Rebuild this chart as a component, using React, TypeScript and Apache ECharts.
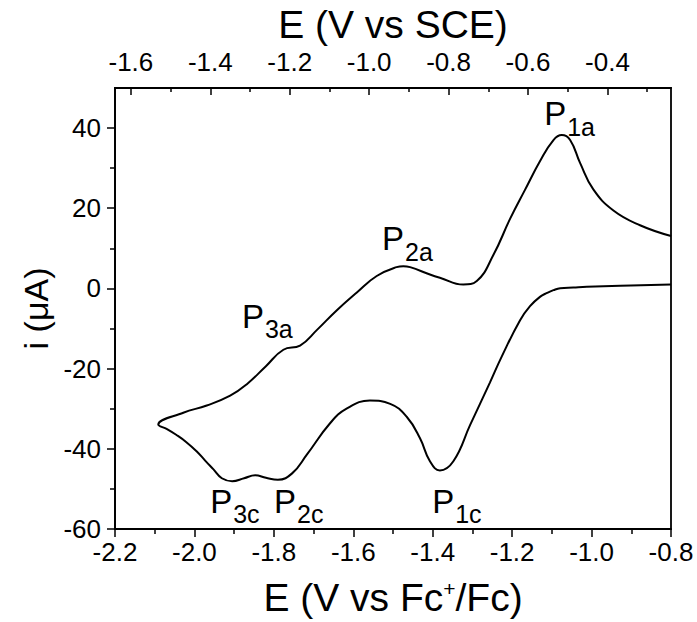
import React, { useEffect, useRef } from "react";
import * as echarts from "echarts";

const FONT = "'Liberation Sans', Arial, Helvetica, sans-serif";

// Cathodic sweep (lower branch), from -0.8 V towards the switching potential
const cathodicE = [
  -0.8, -0.928, -1.012, -1.046, -1.079, -1.096, -1.112, -1.13, -1.155, -1.18,
  -1.226, -1.256, -1.306, -1.348, -1.382, -1.407, -1.432, -1.465, -1.507, -1.558,
  -1.617, -1.659, -1.717, -1.754, -1.79, -1.82, -1.847, -1.875, -1.905, -1.931,
  -1.952, -1.973, -1.994, -2.021, -2.045, -2.069, -2.091,
];
const cathodicI = [
  1.0, 0.64, 0.39, 0.22, 0.05, -0.44, -1.13, -2.11, -4.44, -7.94,
  -16.94, -23.49, -34.11, -43.11, -45.39, -43.11, -37.37, -32.07, -28.79, -27.98,
  -30.01, -33.69, -41.47, -46.13, -47.72, -47.23, -46.62, -47.35, -48.09, -47.35,
  -45.14, -42.94, -40.66, -38.28, -36.56, -35.09, -33.94,
];
// Anodic sweep (upper branch), back towards -0.8 V
const anodicE = [
  -2.028, -1.969, -1.91, -1.868, -1.82, -1.776, -1.734, -1.692, -1.642, -1.591,
  -1.541, -1.491, -1.474, -1.457, -1.407, -1.382, -1.323, -1.289, -1.247, -1.205,
  -1.168, -1.13, -1.096, -1.075, -1.054, -1.029, -0.996, -0.945, -0.878, -0.8,
];
const anodicI = [
  -31.0, -29.21, -26.75, -23.88, -19.4, -15.3, -14.25, -10.4, -5.49, -1.01,
  3.09, 5.3, 5.54, 5.3, 3.48, 2.67, 0.96, 1.86, 8.39, 17.39,
  24.5, 31.68, 37.0, 38.23, 37.0, 31.29, 24.74, 19.42, 15.74, 13.05,
];

const bottomTicks = { min: -2.2, max: -0.8, step: 0.2 };
const SCE_OFFSET = 0.56;
const topMajor = [-1.6, -1.4, -1.2, -1.0, -0.8, -0.6, -0.4];
const topMinor = [-1.5, -1.3, -1.1, -0.9, -0.7, -0.5, -0.3];
const yMajor = [-60, -40, -20, 0, 20, 40];
const yMinor = [-50, -30, -10, 10, 30];
const yRange = { min: -60, max: 50 };

// Peak labels: "P" + subscript, anchored where P meets its subscript (P baseline)
const peakNames = ["1a", "2a", "3a", "3c", "2c", "1c"];
const peakE = [-1.064, -1.472, -1.825, -1.905, -1.744, -1.346];
const peakI = [40.7, 9.5, -9.8, -55.9, -55.9, -55.9];

const BLACK = "#000";

export default function App() {
  const ref = useRef<HTMLDivElement>(null);

  useEffect(() => {
    if (!ref.current) return;
    const chart = echarts.init(ref.current, undefined, { renderer: "svg" });

    const cv: number[][] = [];
    cathodicE.forEach((e, i) => cv.push([e, cathodicI[i]]));
    anodicE.forEach((e, i) => cv.push([e, anodicI[i]]));

    const tickLabel = {
      color: BLACK,
      fontSize: 26,
      fontFamily: FONT,
    };
    const lineS = { color: BLACK, width: 1.8 };
    const tickS = { color: BLACK, width: 1.5 };

    const P_SIZE = 33;
    const S_SIZE = 25;
    const labelItems: any[] = [];
    peakNames.forEach((n, i) => {
      labelItems.push({
        coord: [peakE[i], peakI[i]],
        label: {
          formatter: "P",
          fontSize: P_SIZE,
          align: "right",
          verticalAlign: "bottom",
          offset: [0, Math.round(P_SIZE * 0.16)],
        },
      });
      labelItems.push({
        coord: [peakE[i], peakI[i]],
        label: {
          formatter: n,
          fontSize: S_SIZE,
          align: "left",
          verticalAlign: "bottom",
          offset: [1, 10 + Math.round(S_SIZE * 0.16)],
        },
      });
    });

    chart.setOption({
      animation: false,
      backgroundColor: "#fff",
      grid: {
        left: 115,
        right: 26,
        top: 87,
        bottom: 86,
        show: true,
        borderColor: BLACK,
        borderWidth: 1.8,
        backgroundColor: "transparent",
      },
      xAxis: [
        {
          type: "value",
          position: "bottom",
          min: bottomTicks.min,
          max: bottomTicks.max,
          interval: bottomTicks.step,
          axisLine: { show: true, onZero: false, lineStyle: lineS },
          axisTick: { show: true, inside: false, length: 8, lineStyle: tickS },
          minorTick: { show: true, splitNumber: 2, length: 5, lineStyle: tickS },
          splitLine: { show: false },
          minorSplitLine: { show: false },
          axisLabel: {
            ...tickLabel,
            margin: 10,
            showMinLabel: true,
            showMaxLabel: true,
            formatter: (v: number) => v.toFixed(1),
          },
          name: "E (V vs Fc{sup|+}/Fc)",
          nameLocation: "middle",
          nameGap: 49,
          nameTextStyle: {
            color: BLACK,
            fontSize: 39,
            fontFamily: FONT,
            rich: {
              sup: {
                fontSize: 21,
                fontFamily: FONT,
                color: BLACK,
                verticalAlign: "top",
                lineHeight: 21,
              },
            },
          },
        },
        {
          type: "value",
          position: "top",
          min: bottomTicks.min + SCE_OFFSET,
          max: bottomTicks.max + SCE_OFFSET,
          axisLine: { show: true, onZero: false, lineStyle: lineS },
          axisTick: {
            show: true,
            inside: true,
            length: 7,
            lineStyle: tickS,
            customValues: topMajor,
          },
          splitLine: { show: false },
          axisLabel: {
            ...tickLabel,
            margin: 13,
            customValues: topMajor,
            formatter: (v: number) => v.toFixed(1),
          },
          name: "E (V vs SCE)",
          nameLocation: "middle",
          nameGap: 34,
          nameTextStyle: { color: BLACK, fontSize: 39, fontFamily: FONT },
        },
        {
          type: "value",
          position: "top",
          min: bottomTicks.min + SCE_OFFSET,
          max: bottomTicks.max + SCE_OFFSET,
          axisLine: { show: false, onZero: false },
          axisTick: {
            show: true,
            inside: true,
            length: 4,
            lineStyle: tickS,
            customValues: topMinor,
          },
          splitLine: { show: false },
          axisLabel: { show: false },
        },
      ],
      yAxis: [
        {
          type: "value",
          position: "left",
          min: yRange.min,
          max: yRange.max,
          axisLine: { show: true, onZero: false, lineStyle: lineS },
          axisTick: {
            show: true,
            inside: false,
            length: 8,
            lineStyle: tickS,
            customValues: yMajor,
          },
          splitLine: { show: false },
          axisLabel: {
            ...tickLabel,
            margin: 14,
            customValues: yMajor,
          },
          name: "i (\u03bcA)",
          nameLocation: "middle",
          nameGap: 62,
          nameTextStyle: { color: BLACK, fontSize: 34, fontFamily: FONT },
        },
        {
          type: "value",
          position: "left",
          min: yRange.min,
          max: yRange.max,
          axisLine: { show: false, onZero: false },
          axisTick: {
            show: true,
            inside: false,
            length: 5,
            lineStyle: tickS,
            customValues: yMinor,
          },
          splitLine: { show: false },
          axisLabel: { show: false },
        },
      ],
      series: [
        {
          type: "line",
          data: cv,
          xAxisIndex: 0,
          yAxisIndex: 0,
          symbol: "none",
          showSymbol: false,
          smooth: 0.45,
          clip: false,
          lineStyle: { color: BLACK, width: 2 },
          markPoint: {
            symbol: "circle",
            symbolSize: 0,
            silent: true,
            label: {
              show: true,
              position: [0, 0],
              color: BLACK,
              fontFamily: FONT,
            },
            data: labelItems,
          },
        },
      ],
    });

    return () => chart.dispose();
  }, []);

  return (
    <div
      ref={ref}
      style={{ position: "fixed", left: 0, top: 0, width: 697, height: 622 }}
    />
  );
}
